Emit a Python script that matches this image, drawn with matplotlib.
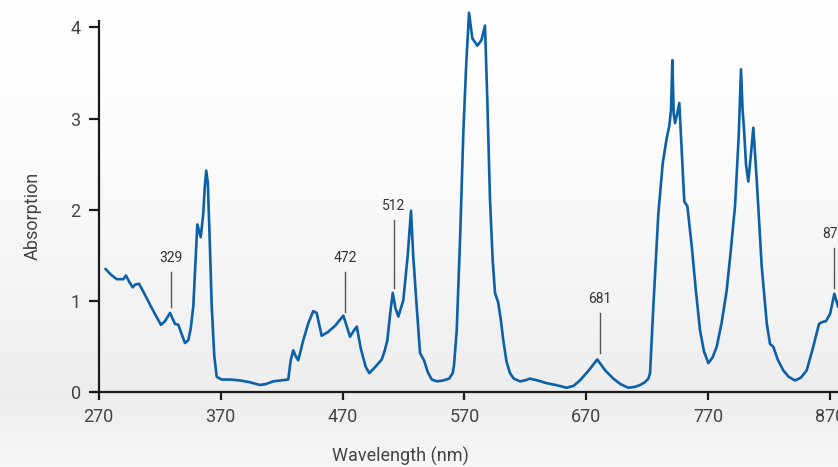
import numpy as np
import matplotlib
matplotlib.use("Agg")
import matplotlib.pyplot as plt
from matplotlib.colors import LinearSegmentedColormap

# ---- data ----
wavelength = [275.7, 280.0, 284.8, 290.2, 292.4, 295.1, 297.9, 299.8, 303.1, 307.5, 312.1, 316.5,
              321.1, 324.4, 328.5, 332.6, 335.3, 338.0, 340.8, 343.5, 345.5, 347.6, 349.5, 350.9,
              353.7, 355.8, 357.0, 358.2, 359.5, 361.0, 362.7, 364.8, 366.8, 370.9, 378.0, 385.9,
              394.1, 402.3, 407.0, 413.2, 419.0, 425.5, 427.5, 429.6, 431.5, 433.7, 437.8, 442.0,
              446.0, 448.8, 452.9, 458.0, 464.0, 470.7, 476.2, 479.5, 481.7, 485.0, 489.0, 492.0,
              497.0, 502.2, 504.5, 506.8, 509.0, 511.2, 513.5, 515.8, 519.9, 523.5, 526.2, 528.0,
              530.3, 533.6, 536.9, 540.0, 543.2, 547.5, 552.7, 557.5, 560.4, 561.5, 563.7, 566.5,
              569.1, 571.5, 573.8, 576.5, 580.6, 584.0, 586.9, 588.8, 591.0, 593.2, 595.1, 597.8,
              600.0, 601.9, 604.5, 607.4, 610.5, 615.6, 619.5, 623.8, 630.0, 637.5, 645.0, 653.9,
              659.5, 664.8, 672.0, 679.0, 685.5, 692.2, 698.0, 704.5, 710.0, 714.1, 718.0, 720.9,
              722.3, 725.0, 729.1, 732.7, 736.0, 738.1, 739.5, 740.6, 741.7, 742.8, 744.5, 746.3,
              748.5, 750.4, 752.9, 756.5, 760.0, 763.3, 766.5, 770.1, 773.5, 777.0, 781.0, 785.2,
              788.5, 792.0, 795.0, 796.9, 798.2, 799.4, 801.0, 802.9, 805.0, 807.0, 809.8, 813.9,
              818.0, 820.7, 823.4, 827.0, 831.6, 836.0, 841.2, 846.0, 850.8, 856.2, 860.9, 863.5,
              866.6, 870.0, 873.5, 876.5]
absorption = [1.35, 1.29, 1.24, 1.24, 1.28, 1.21, 1.15, 1.18, 1.19, 1.08, 0.96, 0.85,
              0.74, 0.78, 0.87, 0.75, 0.74, 0.64, 0.54, 0.57, 0.70, 0.94, 1.45, 1.84,
              1.70, 1.96, 2.25, 2.43, 2.30, 1.70, 0.95, 0.40, 0.17, 0.14, 0.14, 0.13,
              0.11, 0.08, 0.09, 0.12, 0.13, 0.14, 0.35, 0.46, 0.40, 0.35, 0.57, 0.76,
              0.89, 0.87, 0.62, 0.66, 0.73, 0.84, 0.61, 0.68, 0.72, 0.48, 0.28, 0.21,
              0.28, 0.36, 0.45, 0.57, 0.85, 1.09, 0.92, 0.83, 1.01, 1.50, 1.99, 1.50,
              1.05, 0.43, 0.35, 0.22, 0.14, 0.12, 0.13, 0.15, 0.21, 0.30, 0.68, 1.70,
              2.84, 3.60, 4.16, 3.88, 3.80, 3.86, 4.02, 3.20, 2.11, 1.45, 1.09, 0.98,
              0.78, 0.57, 0.34, 0.21, 0.15, 0.12, 0.13, 0.15, 0.13, 0.10, 0.08, 0.05,
              0.07, 0.13, 0.24, 0.36, 0.24, 0.15, 0.09, 0.05, 0.06, 0.08, 0.11, 0.15,
              0.21, 0.94, 1.96, 2.51, 2.79, 2.92, 3.10, 3.64, 3.05, 2.95, 3.05, 3.17,
              2.60, 2.09, 2.04, 1.60, 1.10, 0.68, 0.45, 0.32, 0.38, 0.50, 0.76, 1.12,
              1.55, 2.04, 2.80, 3.54, 3.10, 2.88, 2.50, 2.31, 2.60, 2.90, 2.33, 1.38,
              0.76, 0.53, 0.50, 0.36, 0.24, 0.17, 0.13, 0.16, 0.24, 0.50, 0.75, 0.77,
              0.78, 0.86, 1.08, 0.94]

peak_labels = ["329", "472", "512", "681", "873"]
peak_x = [329, 472, 512, 681, 873]
leader_bottom = [0.94, 0.885, 1.14, 0.43, 1.14]
leader_top = [1.32, 1.32, 1.89, 0.87, 1.58]

x_ticks = [270, 370, 470, 570, 670, 770, 870]
y_ticks = [0, 1, 2, 3, 4]

# ---- figure ----
W, H, DPI = 838, 467, 100
fig = plt.figure(figsize=(W / DPI, H / DPI), dpi=DPI)
plt.rcParams['font.family'] = ['Roboto', 'DejaVu Sans']

# background gradient
bg = fig.add_axes([0, 0, 1, 1])
bg.set_axis_off()
axis_frac = (H - 392.3) / H
rows = 400
col = np.zeros((rows, 1))
yy = np.linspace(1, 0, rows)  # top -> bottom
vals = np.where(yy > axis_frac,
                1.0 - 0.07 * ((1 - yy) / (1 - axis_frac)) ** 1.6,
                0.925 + 0.045 * (1 - yy / axis_frac))
col[:, 0] = vals
rgb = np.dstack([col, col, col])
bg.imshow(rgb, aspect='auto', extent=[0, 1, 0, 1], interpolation='bilinear')
bg.set_xlim(0, 1)
bg.set_ylim(0, 1)

left_px = 93.3
ax = fig.add_axes([left_px / W, axis_frac, 1 - left_px / W, 1 - axis_frac])
ax.set_zorder(2)
ax.patch.set_alpha(0)

px_per_nm = 1.219
ax.set_xlim(270 - (98.7 - left_px) / px_per_nm, 270 + (W - 98.7) / px_per_nm)
ax.set_ylim(0, 4.30)

ax.plot(wavelength, absorption, color='#0b60a8', lw=1.9, solid_joinstyle='round', zorder=3)

for lab, xp, yb, yt in zip(peak_labels, peak_x, leader_bottom, leader_top):
    ax.plot([xp, xp], [yb, yt], color='#555555', lw=1.0, zorder=2)
    ax.annotate(lab, xy=(xp, yt), xytext=(0, 5), textcoords='offset points',
                ha='center', va='bottom', fontsize=10, color='#333333')

for s in ['top', 'right']:
    ax.spines[s].set_visible(False)
ax.spines['left'].set_position(('data', 270))
ax.spines['left'].set_bounds(0, 4.07)
for s in ['left', 'bottom']:
    ax.spines[s].set_linewidth(1.6)
    ax.spines[s].set_color('#1a1a1a')

ax.set_xticks(x_ticks)
ax.set_yticks(y_ticks)
ax.tick_params(axis='x', length=6, width=1.6, color='#1a1a1a', labelsize=13,
               labelcolor='#444444', pad=5)
ax.tick_params(axis='y', length=7, width=1.6, color='#1a1a1a', labelsize=13,
               labelcolor='#444444', pad=6)

fig.text(400 / W, 1 - 456 / H, 'Wavelength (nm)', ha='center', va='center',
         fontsize=13, color='#444444')
fig.text(33 / W, 1 - 216 / H, 'Absorption', ha='center', va='center',
         rotation=90, fontsize=13, color='#444444')

fig.savefig('out.png', dpi=DPI)
